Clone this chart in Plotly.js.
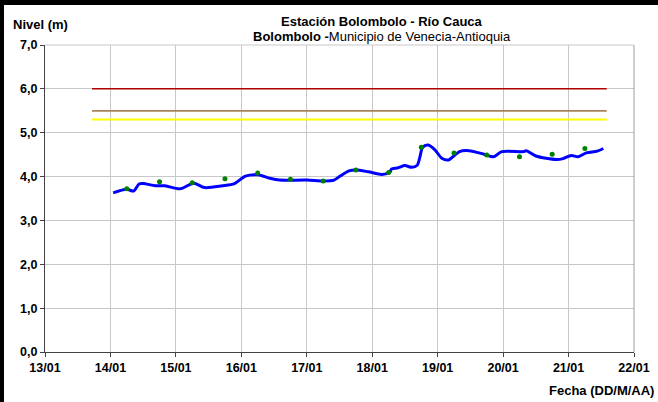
<!DOCTYPE html>
<html><head><meta charset="utf-8">
<script src="https://cdn.plot.ly/plotly-3.0.1.min.js"></script>
<style>
html,body{margin:0;padding:0;background:#fff;}
#wrap{position:relative;width:658px;height:402px;overflow:hidden;}
#chart{width:658px;height:402px;}
#bt{position:absolute;left:0;top:0;width:658px;height:5px;background:#000;}
#bl{position:absolute;left:0;top:0;width:4px;height:402px;background:#000;}
#chart .xtick text, #chart .ytick text{font-weight:bold !important;}
</style></head>
<body><div id="wrap"><div id="chart"></div><div id="bt"></div><div id="bl"></div></div>
<script>
// Continuous level (m)
const levelTimes = ["2011-01-14 01:00","2011-01-14 06:00","2011-01-14 08:30","2011-01-14 10:30","2011-01-14 12:00","2011-01-14 16:30","2011-01-14 20:00",
"2011-01-15 01:30","2011-01-15 06:30","2011-01-15 10:30","2011-01-15 17:00","2011-01-15 21:30",
"2011-01-16 01:30","2011-01-16 06:00","2011-01-16 10:30","2011-01-16 14:00",
"2011-01-17 00:00","2011-01-17 06:00","2011-01-17 10:00","2011-01-17 12:00","2011-01-17 15:30","2011-01-17 18:00","2011-01-17 22:30",
"2011-01-18 03:30","2011-01-18 06:30","2011-01-18 07:00","2011-01-18 09:30","2011-01-18 12:00","2011-01-18 14:30","2011-01-18 16:30","2011-01-18 17:30","2011-01-18 18:30","2011-01-18 20:30","2011-01-18 23:00",
"2011-01-19 01:30","2011-01-19 04:00","2011-01-19 08:00","2011-01-19 11:30","2011-01-19 17:00","2011-01-19 20:30","2011-01-19 23:30",
"2011-01-20 07:30","2011-01-20 08:30","2011-01-20 12:00","2011-01-20 19:30","2011-01-20 22:00",
"2011-01-21 01:00","2011-01-21 03:30","2011-01-21 06:30","2011-01-21 10:30","2011-01-21 12:45"];
const levelValues = [3.63,3.71,3.67,3.83,3.84,3.79,3.79,
3.72,3.85,3.75,3.79,3.84,
4.01,4.04,3.96,3.92,
3.92,3.90,3.92,4.00,4.13,4.15,4.11,
4.05,4.10,4.17,4.20,4.25,4.21,4.26,4.45,4.67,4.72,4.61,
4.42,4.38,4.57,4.59,4.51,4.45,4.57,
4.57,4.59,4.47,4.39,4.41,
4.48,4.45,4.54,4.58,4.64];
// Manual readings (green dots)
const readTimes = ["2011-01-14 06:00","2011-01-14 18:00","2011-01-15 06:00","2011-01-15 18:00","2011-01-16 06:00","2011-01-16 18:00","2011-01-17 06:00","2011-01-17 18:00","2011-01-18 06:00","2011-01-18 18:00","2011-01-19 06:00","2011-01-19 18:00","2011-01-20 06:00","2011-01-20 18:00","2011-01-21 06:00"];
const readValues = [3.72,3.88,3.86,3.95,4.08,3.94,3.90,4.15,4.09,4.67,4.54,4.49,4.45,4.51,4.64];
// Alert thresholds
const thresholdSpan = ["2011-01-13 17:15","2011-01-21 14:00"];
const thresholdRed = [6.0,6.0];
const thresholdBrown = [5.5,5.5];
const thresholdYellow = [5.3,5.3];
const xTickVals = ["2011-01-13","2011-01-14","2011-01-15","2011-01-16","2011-01-17","2011-01-18","2011-01-19","2011-01-20","2011-01-21","2011-01-22"];
const xTickText = ["13/01","14/01","15/01","16/01","17/01","18/01","19/01","20/01","21/01","22/01"];
const yTickVals = [0,1,2,3,4,5,6,7];
const yTickText = ["0,0","1,0","2,0","3,0","4,0","5,0","6,0","7,0"];

const F = "Arial, Liberation Sans, sans-serif";
const traces = [
 {x: thresholdSpan, y: thresholdRed, mode:"lines", line:{color:"#B00000", width:1.5}, hoverinfo:"skip"},
 {x: thresholdSpan, y: thresholdBrown, mode:"lines", line:{color:"#A8845C", width:1.8}, hoverinfo:"skip"},
 {x: thresholdSpan, y: thresholdYellow, mode:"lines", line:{color:"#FFFF00", width:2}, hoverinfo:"skip"},
 {x: levelTimes, y: levelValues, mode:"lines", line:{color:"#0000FF", width:3, shape:"spline", smoothing:0.8}},
 {x: readTimes, y: readValues, mode:"markers", marker:{color:"#008000", size:5}}
];
const layout = {
 width:658, height:402, showlegend:false,
 paper_bgcolor:"#fff", plot_bgcolor:"#fff",
 margin:{l:45, r:24, t:45, b:50},
 font:{family:F, size:13, color:"#000"},
 xaxis:{type:"date", range:["2011-01-13","2011-01-22"], tickvals:xTickVals, ticktext:xTickText,
   showgrid:true, gridcolor:"#C8C8C8", gridwidth:1, showline:true, linecolor:"#444", linewidth:1,
   ticks:"outside", ticklen:4, tickcolor:"#444", zeroline:false,
   tickfont:{family:F, size:12.5, color:"#000", weight:700}},
 yaxis:{range:[0,7], tickvals:yTickVals, ticktext:yTickText, showgrid:true, gridcolor:"#C8C8C8", gridwidth:1,
   showline:true, linecolor:"#444", linewidth:1, ticks:"outside", ticklen:4, tickcolor:"#444", zeroline:false,
   tickfont:{family:F, size:12.5, color:"#000", weight:700}},
 shapes:[
  {type:"line", xref:"paper", yref:"paper", x0:1, x1:1, y0:0, y1:1, line:{color:"#A0A0A0", width:1}},
  {type:"line", xref:"paper", yref:"paper", x0:0, x1:1, y0:1, y1:1, line:{color:"#C8C8C8", width:1}}
 ],
 annotations:[
  {text:"<b>Estación Bolombolo - Río Cauca</b>", xref:"paper", yref:"paper", x:(382-45)/589, y:1+(45-22)/307, showarrow:false, xanchor:"center", yanchor:"middle", font:{family:F, size:13}},
  {text:"<b>Bolombolo -</b>Municipio de Venecia-Antioquia", xref:"paper", yref:"paper", x:(382-45)/589, y:1+(45-36)/307, showarrow:false, xanchor:"center", yanchor:"middle", font:{family:F, size:13}},
  {text:"<b>Nivel (m)</b>", xref:"paper", yref:"paper", x:(11-45)/589, y:1+(45-25)/307, showarrow:false, xanchor:"left", yanchor:"middle", font:{family:F, size:13}},
  {text:"<b>Fecha (DD/M/AA)</b>", xref:"paper", yref:"paper", x:(656-45)/589, y:-(390-352)/307, showarrow:false, xanchor:"right", yanchor:"middle", font:{family:F, size:13}}
 ]
};
Plotly.newPlot("chart", traces, layout, {displayModeBar:false, staticPlot:true});
</script></body></html>
